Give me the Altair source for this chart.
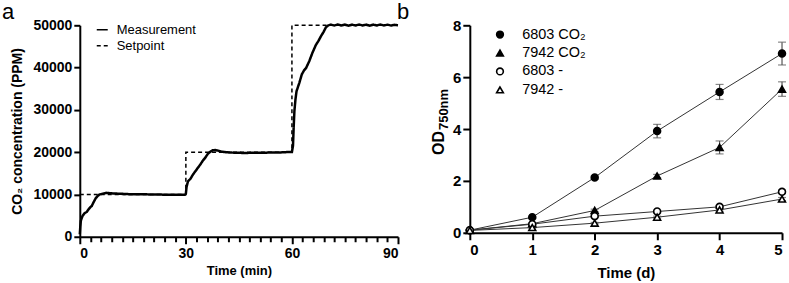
import altair as alt
import pandas as pd

FONT = "Liberation Sans"

# ---- Panel a: CO2 step response ----
meas_t = [0.0, 0.15, 0.3, 0.75, 1.4, 2.0, 2.4, 3.0, 3.4, 3.8, 4.5, 5.0, 5.6, 6.5,
          7.5, 8.5, 9.5, 12.0, 14.0, 17.0, 20.7, 24.0, 27.0, 29.2, 29.8, 30.0,
          30.2, 30.6, 31.3, 32.0, 32.7, 33.4, 34.1, 34.8, 35.5, 36.2, 36.9, 37.6,
          38.3, 39.0, 40.0, 41.4, 43.0, 46.1, 50.0, 53.6, 57.0, 59.3, 60.0, 60.3,
          60.5, 60.7, 61.0, 61.3, 62.1, 62.8, 63.4, 64.0, 64.9, 65.8, 66.8, 67.5,
          68.2, 69.0, 69.6, 70.3, 71, 72, 73, 74, 75, 76, 77, 78, 79, 80, 81, 82,
          83, 84, 85, 86, 87, 88, 89, 90]
meas_ppm = [600, 2500, 3800, 4900, 5600, 5900, 6400, 7000, 7300, 8000, 9100, 9600,
            10000, 10200, 10380, 10300, 10230, 10150, 10070, 10050, 10000, 9950,
            9930, 9910, 9950, 10200, 11800, 13100, 13700, 14700, 15500, 16300,
            17100, 18000, 18700, 19600, 20100, 20450, 20500, 20380, 20150, 19980,
            19900, 19820, 19850, 19900, 19950, 20050, 20050, 21500, 26000, 29700,
            32500, 34400, 36400, 38400, 39300, 39900, 41500, 43500, 45400, 46300,
            47400, 48500, 49500, 50000, 50150, 49950, 50200, 49950, 50150, 49900,
            50150, 49950, 50200, 49950, 50150, 49900, 50150, 49950, 50200, 49950,
            50150, 49950, 50100, 50000]
set_t = [0, 30, 30, 60, 60, 90]
set_ppm = [10000, 10000, 20000, 20000, 50000, 50000]

# ---- Panel b: growth curves (OD750) ----
days = [0, 1, 2, 3, 4, 5]
strains = ["6803 CO₂", "7942 CO₂", "6803 -", "7942 -"]
od_mean = {
    "6803 CO₂": [0.10, 0.60, 2.13, 3.92, 5.43, 6.91],
    "7942 CO₂": [0.10, 0.35, 0.86, 2.19, 3.29, 5.54],
    "6803 -":   [0.10, 0.33, 0.64, 0.82, 1.00, 1.58],
    "7942 -":   [0.09, 0.20, 0.37, 0.60, 0.88, 1.30],
}
od_sd = {
    "6803 CO₂": [0.02, 0.04, 0.06, 0.26, 0.29, 0.44],
    "7942 CO₂": [0.02, 0.03, 0.05, 0.06, 0.25, 0.28],
    "6803 -":   [0.02, 0.03, 0.04, 0.05, 0.06, 0.07],
    "7942 -":   [0.02, 0.02, 0.03, 0.04, 0.05, 0.06],
}
marker_shapes = ["circle", "triangle-up", "circle", "triangle-up"]
marker_fills = ["black", "black", "white", "white"]
marker_strokes = ["black", "black", "black", "black"]

# y-axis title of panel b, drawn as main text plus subscript
od_title = ["OD"]
od_title_sub = ["750nm"]

co2 = pd.concat([
    pd.DataFrame({"t": meas_t, "ppm": meas_ppm, "series": "Measurement"}),
    pd.DataFrame({"t": set_t, "ppm": set_ppm, "series": "Setpoint"}),
])

rows = []
for s in strains:
    for d, m, e in zip(days, od_mean[s], od_sd[s]):
        rows.append({"day": d, "od": m, "lo": m - e, "hi": m + e, "strain": s})
growth = pd.DataFrame(rows)


def axis_style(label_size, title_size):
    return dict(
        domainColor="black", domainWidth=2, tickColor="black", tickWidth=2,
        labelFont=FONT, labelFontWeight="bold", labelFontSize=label_size,
        labelColor="black", titleFont=FONT, titleFontWeight="bold",
        titleFontSize=title_size, titleColor="black", grid=False,
    )


# Panel a
steps = alt.Chart(co2).mark_line(color="black", strokeCap="butt").encode(
    x=alt.X("t:Q", scale=alt.Scale(domain=[0, 90], nice=False),
            axis=alt.Axis(values=list(range(0, 91, 3)),
                          labelExpr="datum.value % 30 === 0 ? datum.label : ''",
                          tickSize={"condition": {"test": "datum.value % 30 === 0", "value": 7}, "value": 5},
                          labelPadding=3, title="Time (min)",
                          titleBaseline="alphabetic", titleY=38, **axis_style(14, 13))),
    y=alt.Y("ppm:Q", scale=alt.Scale(domain=[0, 50000], nice=False),
            axis=alt.Axis(values=[0, 10000, 20000, 30000, 40000, 50000], format="d",
                          tickSize=6, labelPadding=2,
                          title="CO₂ concentration (PPM)", titleBaseline="middle",
                          titleX=-62, **axis_style(14, 14))),
    strokeDash=alt.StrokeDash("series:N",
                              scale=alt.Scale(domain=["Measurement", "Setpoint"],
                                              range=[[1, 0], [4, 3]]),
                              legend=alt.Legend(title=None, orient="none", legendX=16, legendY=-2,
                                                symbolType="stroke", symbolSize=121,
                                                symbolStrokeColor="black",
                                                labelFont=FONT, labelFontSize=13,
                                                labelColor="black", labelOffset=8,
                                                rowPadding=2, padding=0)),
    strokeWidth=alt.StrokeWidth("series:N",
                                scale=alt.Scale(domain=["Measurement", "Setpoint"],
                                                range=[2.5, 1.5]),
                                legend=None),
    detail="series:N",
)
tag_a = alt.Chart(pd.DataFrame({"tag": ["a"]})).mark_text(
    font=FONT, fontSize=22, align="left", baseline="alphabetic", color="black"
).encode(text="tag:N", x=alt.value(-78), y=alt.value(-6))
panel_a = alt.layer(steps, tag_a).properties(width=319, height=212)

# Panel b
xb = alt.X("day:Q", scale=alt.Scale(domain=[0, 5], nice=False),
           axis=alt.Axis(values=days, format="d", tickSize=7, labelPadding=3,
                         title="Time (d)", titleBaseline="alphabetic", titleY=45,
                         **axis_style(15, 15)))
yb = alt.Y("od:Q", scale=alt.Scale(domain=[0, 8], nice=False),
           axis=alt.Axis(values=[0, 2, 4, 6, 8], format="d", tickSize=7, labelPadding=2,
                         title=None, **axis_style(15, 15)))
lines = alt.Chart(growth).mark_line(color="#333333", strokeWidth=1).encode(
    x=xb, y=yb, detail="strain:N")
bars = alt.Chart(growth).mark_errorbar(ticks={"size": 8}, color="#555555", thickness=1.2).encode(
    x="day:Q", y=alt.Y("lo:Q", title=None), y2="hi:Q")
legend_b = alt.Legend(title=None, orient="none", legendX=23, legendY=2,
                      symbolStrokeWidth=1.6, symbolSize=45,
                      labelFont=FONT, labelFontSize=14.5, labelColor="black",
                      labelOffset=15, rowPadding=3.5, padding=0)
pts = alt.Chart(growth).mark_point(strokeWidth=1.6, size=48,
                                   opacity=1, fillOpacity=1).encode(
    x="day:Q", y="od:Q",
    shape=alt.Shape("strain:N", scale=alt.Scale(domain=strains, range=marker_shapes),
                    legend=legend_b),
    fill=alt.Fill("strain:N", scale=alt.Scale(domain=strains, range=marker_fills),
                  legend=legend_b),
    stroke=alt.Stroke("strain:N", scale=alt.Scale(domain=strains, range=marker_strokes),
                      legend=legend_b),
)
title_main = alt.Chart(pd.DataFrame({"txt": od_title})).mark_text(
    font=FONT, fontSize=16, fontWeight="bold", angle=270, align="left",
    baseline="middle", color="black"
).encode(text="txt:N", x=alt.value(-31), y=alt.value(130))
title_sub = alt.Chart(pd.DataFrame({"txt": od_title_sub})).mark_text(
    font=FONT, fontSize=13, fontWeight="bold", angle=270, align="left",
    baseline="middle", color="black"
).encode(text="txt:N", x=alt.value(-26), y=alt.value(105))
tag_b = alt.Chart(pd.DataFrame({"tag": ["b"]})).mark_text(
    font=FONT, fontSize=22, align="left", baseline="alphabetic", color="black"
).encode(text="tag:N", x=alt.value(-73), y=alt.value(-6))
panel_b = alt.layer(lines, bars, pts, title_main, title_sub, tag_b).properties(
    width=313, height=208)

chart = alt.hconcat(panel_a, panel_b, spacing=72, bounds="flush").resolve_scale(
    shape="independent", fill="independent", stroke="independent",
    strokeDash="independent"
).properties(
    padding={"left": 2, "top": 1, "right": 0, "bottom": 0}
).configure_view(stroke=None)

chart.save("out.html", embed_options={"renderer": "svg", "actions": False})
